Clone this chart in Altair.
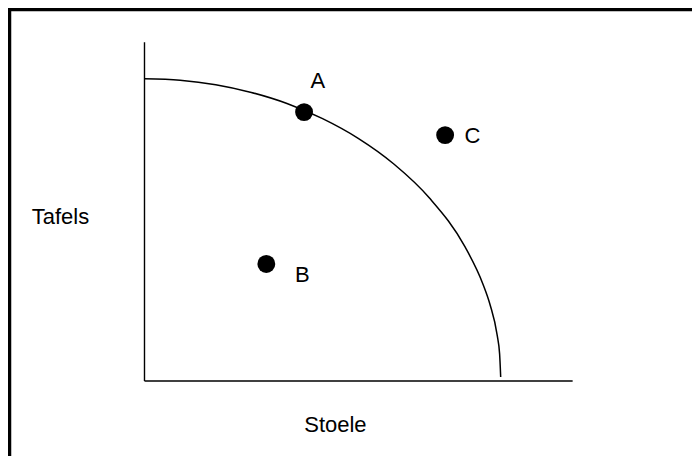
import altair as alt
import pandas as pd

# Production possibility curve (Stoele on x, Tafels on y)
curve_x = [0, 1, 2, 3, 4, 5, 6, 7, 8, 9, 9.5, 9.7, 9.9, 9.97, 10]
curve_y = [10, 9.95, 9.80, 9.54, 9.17, 8.66, 8.00, 7.14, 6.00, 4.36, 3.12, 2.43, 1.41, 0.77, 0]

# Points A, B, C
pt_name = ["A", "B", "C"]
pt_x = [4.48, 3.42, 8.44]
pt_y = [8.88, 3.79, 8.11]

# label positions (baseline)
lab_text = ["A", "B", "C"]
lab_x = [4.87, 4.43, 9.21]
lab_y = [9.68, 3.18, 7.86]

# axis lines
axis_x = [0, 0]
axis_x2 = [0, 12.02]
axis_y = [-0.134, -0.134]
axis_y2 = [11.22, -0.134]

# axis titles (baseline)
title_text = ["Tafels", "Stoele"]
title_x = [-2.36, 5.36]
title_y = [5.13, -1.85]

W, H = 684, 448
xs = alt.Scale(domain=[-3.832, 15.371], nice=False, zero=False)
ys = alt.Scale(domain=[-2.648, 12.370], nice=False, zero=False)
X = lambda f: alt.X(f, type="quantitative", scale=xs, axis=None)
Y = lambda f: alt.Y(f, type="quantitative", scale=ys, axis=None)

curve = pd.DataFrame({"x": curve_x, "y": curve_y})
pts = pd.DataFrame({"name": pt_name, "x": pt_x, "y": pt_y})
labs = pd.DataFrame({"t": lab_text, "x": lab_x, "y": lab_y})
axes = pd.DataFrame({"x": axis_x, "x2": axis_x2, "y": axis_y, "y2": axis_y2})
titles = pd.DataFrame({"t": title_text, "x": title_x, "y": title_y})
one = pd.DataFrame({"k": [0]})

border_top = alt.Chart(one).mark_rule(color="black", strokeWidth=3.5).encode(
    x=alt.value(0), x2=alt.value(W), y=alt.value(1.5))
border_left = alt.Chart(one).mark_rule(color="black", strokeWidth=3.5).encode(
    x=alt.value(1.5), y=alt.value(0), y2=alt.value(H))

curve_l = alt.Chart(curve).mark_line(color="black", strokeWidth=1.5, interpolate="monotone").encode(
    x=X("x"), y=Y("y"), order="x:Q")
axes_l = alt.Chart(axes).mark_rule(color="black", strokeWidth=1.4).encode(
    x=X("x"), x2="x2", y=Y("y"), y2="y2")
pts_l = alt.Chart(pts).mark_circle(color="black", size=320, opacity=1).encode(x=X("x"), y=Y("y"))
labs_l = alt.Chart(labs).mark_text(font="Liberation Sans", fontSize=22, align="center", baseline="alphabetic").encode(
    x=X("x"), y=Y("y"), text="t:N")
titles_l = alt.Chart(titles).mark_text(font="Liberation Sans", fontSize=22, align="center", baseline="alphabetic").encode(
    x=X("x"), y=Y("y"), text="t:N")

chart = alt.layer(border_top, border_left, axes_l, curve_l, pts_l, labs_l, titles_l).properties(
    width=W, height=H, padding=0,
    autosize=alt.AutoSizeParams(type="none"),
).configure_view(stroke=None, fill="white")

chart.save("out.html", embed_options={"renderer": "svg", "actions": False})
